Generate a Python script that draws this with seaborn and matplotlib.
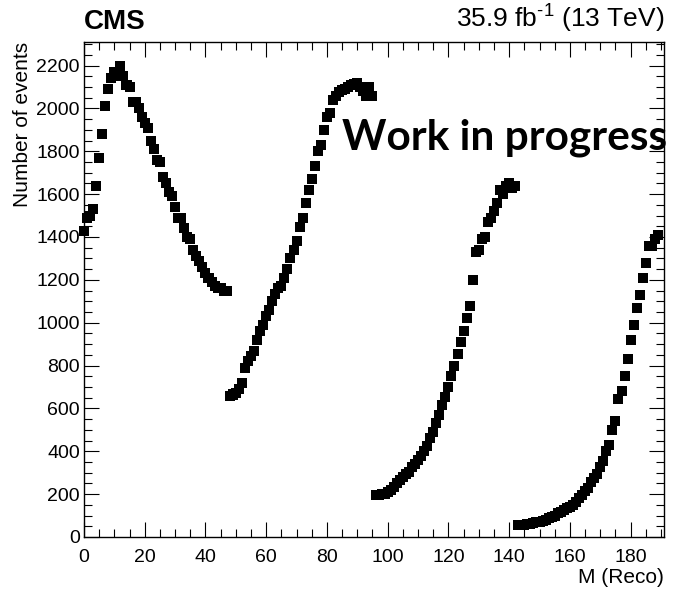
import numpy as np
import pandas as pd
import matplotlib
matplotlib.use("Agg")
import matplotlib.pyplot as plt
import seaborn as sns
from matplotlib.ticker import MultipleLocator

# Reconstructed-mass spectrum, four consecutive blocks of bins
block_start = [0, 48, 96, 143]

block1_counts = [1430, 1490, 1500, 1530, 1640, 1770, 1880, 2010, 2090, 2140,
                 2170, 2150, 2200, 2150, 2110, 2100, 2030, 2030, 2000, 1960,
                 1930, 1910, 1850, 1810, 1760, 1750, 1680, 1650, 1610, 1590,
                 1540, 1490, 1490, 1440, 1400, 1390, 1340, 1310, 1290, 1260,
                 1230, 1210, 1190, 1170, 1160, 1160, 1150, 1150]

block2_counts = [660, 665, 670, 690, 720, 790, 820, 845, 870, 920,
                 960, 990, 1030, 1060, 1100, 1135, 1160, 1170, 1210, 1250,
                 1300, 1340, 1380, 1445, 1490, 1560, 1620, 1670, 1730, 1800,
                 1830, 1900, 1960, 1980, 2040, 2060, 2075, 2085, 2090, 2100,
                 2110, 2115, 2120, 2100, 2080, 2060, 2100, 2060]

block3_counts = [195, 195, 200, 200, 210, 220, 235, 250, 265, 280,
                 295, 305, 325, 340, 360, 380, 400, 425, 460, 490,
                 530, 570, 615, 655, 700, 750, 800, 855, 910, 960,
                 1020, 1080, 1200, 1330, 1340, 1390, 1400, 1470, 1490, 1520,
                 1560, 1620, 1600, 1640, 1650, 1630, 1640]

block4_counts = [55, 55, 58, 60, 62, 65, 68, 70, 75, 80,
                 88, 95, 100, 110, 115, 125, 135, 140, 150, 165,
                 180, 195, 215, 230, 255, 275, 295, 325, 355, 400,
                 430, 500, 540, 645, 680, 750, 830, 920, 990, 1070,
                 1130, 1210, 1280, 1360, 1360, 1390, 1410]

x_title = "M (Reco)"
y_title = "Number of events"

frames = []
for start, counts in zip(block_start,
                         [block1_counts, block2_counts, block3_counts, block4_counts]):
    frames.append(pd.DataFrame({"mass": np.arange(start, start + len(counts)),
                                "events": counts}))
df = pd.concat(frames, ignore_index=True)

sns.set_theme(style="ticks")
plt.rcParams["font.family"] = ["Liberation Sans", "DejaVu Sans"]
plt.rcParams["mathtext.fontset"] = "custom"
plt.rcParams["mathtext.rm"] = "Liberation Sans"
plt.rcParams["mathtext.it"] = "Liberation Sans"
for key in ("text.color", "axes.labelcolor", "xtick.color", "ytick.color",
            "axes.edgecolor"):
    plt.rcParams[key] = "black"

fig = plt.figure(figsize=(6.74, 5.95), dpi=100)
ax = fig.add_axes([0.1246, 0.0975, 0.9852 - 0.1246, 0.9294 - 0.0975])

sns.scatterplot(data=df, x="mass", y="events", ax=ax, marker="s", s=52,
                color="black", edgecolor="none", linewidth=0, clip_on=False,
                legend=False, zorder=3)

ax.set_xlim(0, 191)
ax.set_ylim(0, 2310)

ax.xaxis.set_major_locator(MultipleLocator(20))
ax.xaxis.set_minor_locator(MultipleLocator(5))
ax.yaxis.set_major_locator(MultipleLocator(200))
ax.yaxis.set_minor_locator(MultipleLocator(50))

ax.tick_params(which="both", direction="in", top=True, right=True,
               colors="black", labelcolor="black", width=0.8)
ax.tick_params(which="major", length=10.5)
ax.tick_params(which="minor", length=5.5)
ax.tick_params(axis="x", which="major", labelsize=14, pad=8.5)
ax.tick_params(axis="y", which="major", labelsize=14, pad=3)

for sp in ax.spines.values():
    sp.set_color("black")
    sp.set_linewidth(1.0)

ax.set_xlabel("")
ax.set_ylabel("")
fig.text(0.9852, 0.029, x_title, ha="right", va="center", fontsize=15)
fig.text(0.033, 0.9294, y_title, ha="center", va="top", rotation=90, fontsize=15)

fig.text(0.1246, 0.942, "CMS", ha="left", va="bottom", fontsize=20,
         fontweight="bold")
fig.text(0.9852, 0.942, r"35.9 fb$^{\text{-}1}$ (13 TeV)", ha="right",
         va="bottom", fontsize=19)

fig.text(0.508, 0.748, "Work in progress", ha="left", va="baseline",
         fontsize=30.5, fontweight="bold", family=["Lato", "DejaVu Sans"])

fig.savefig("out.png", dpi=100)
